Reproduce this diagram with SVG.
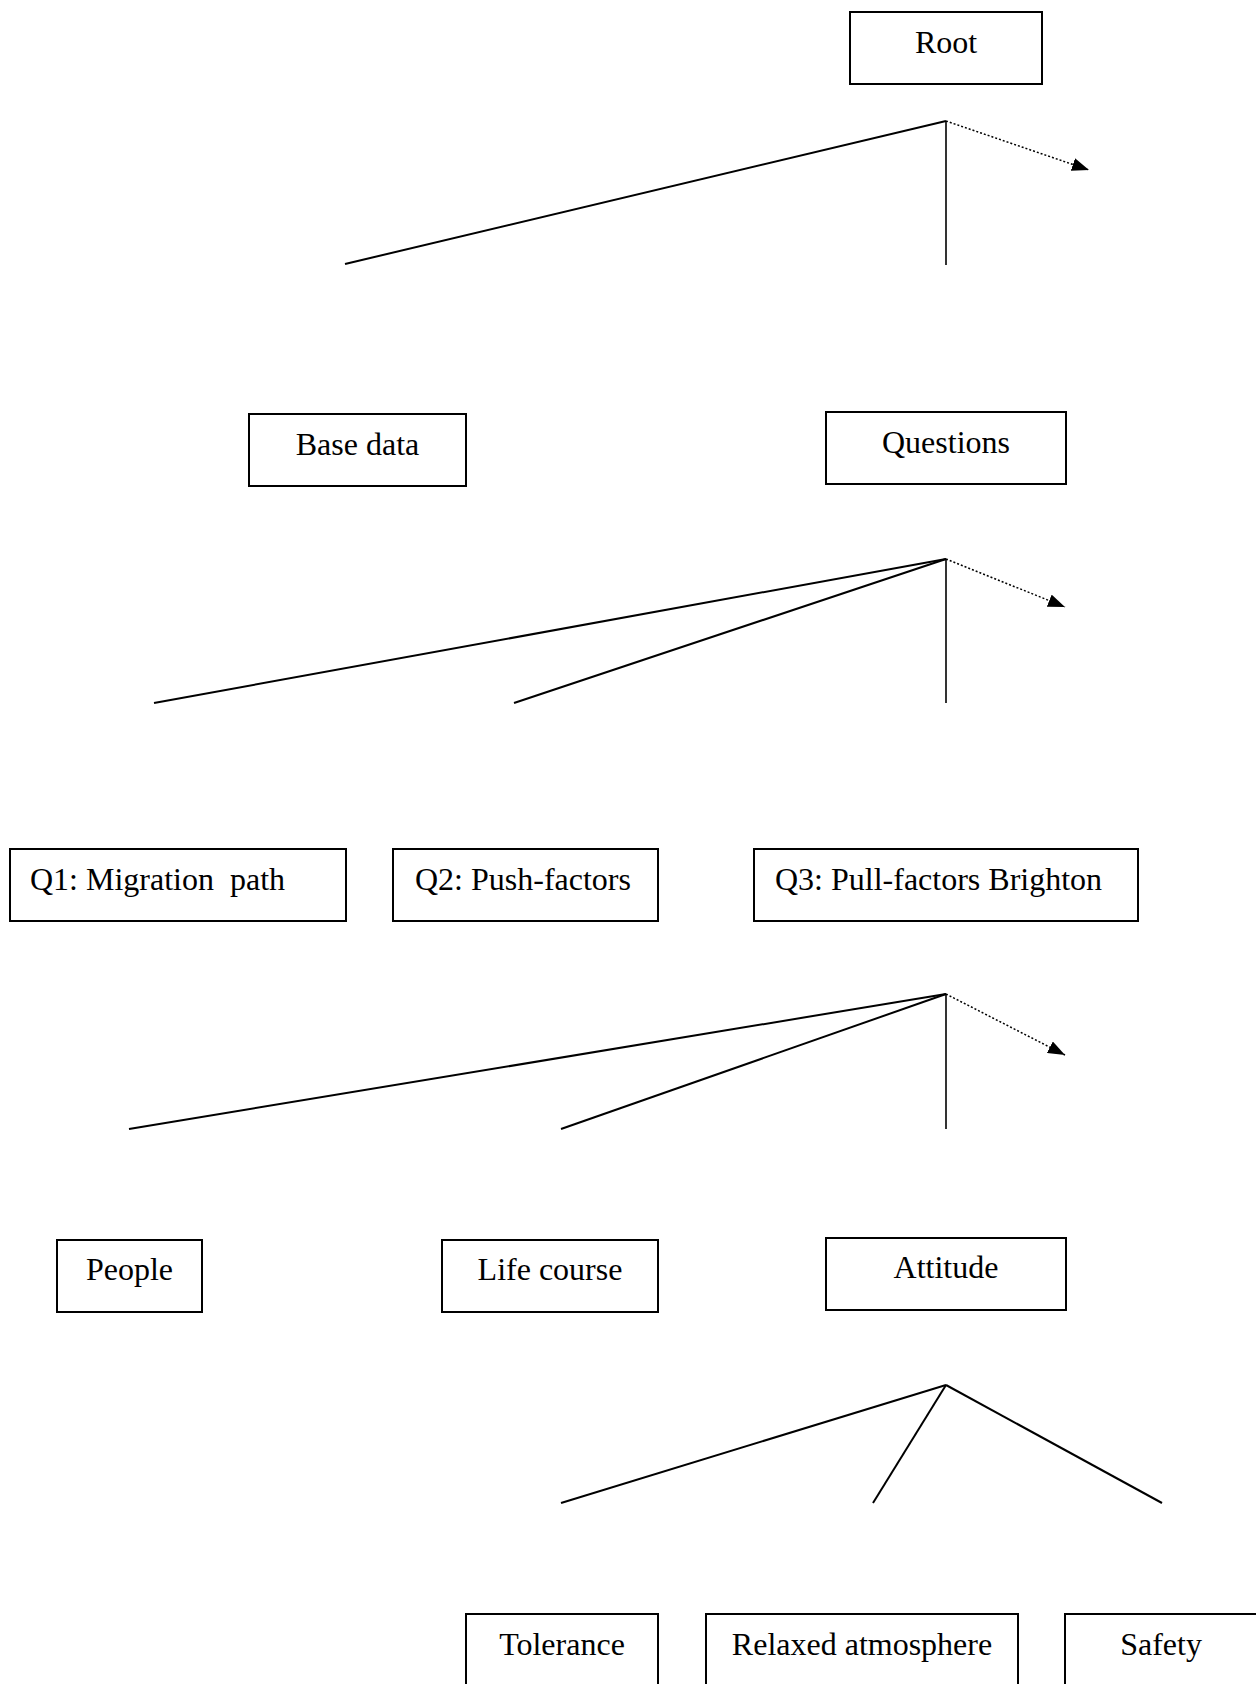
<svg xmlns="http://www.w3.org/2000/svg" width="1256" height="1684" viewBox="0 0 1256 1684">
<style>
.box{fill:#fff;stroke:#000;stroke-width:2}
.t{font-family:"Liberation Serif","Times New Roman",serif;font-size:32px;fill:#000}
.c{text-anchor:middle}
.ln{stroke:#000;stroke-width:2;fill:none}
.v{stroke:#000;stroke-width:1.6;fill:none}
.dot{stroke:#000;stroke-width:1.5;stroke-dasharray:2,2;fill:none}
</style>
<defs>
<marker id="ah" markerUnits="userSpaceOnUse" viewBox="0 0 17 13" refX="17" refY="6.5" markerWidth="17" markerHeight="13" orient="auto">
<path d="M0,0 L17,6.5 L0,13 z" fill="#000"/>
</marker>
</defs>
<rect width="1256" height="1684" fill="#fff"/>
<g id="connectors">
<line class="ln" x1="946" y1="121" x2="345" y2="264"/>
<line class="v" x1="946" y1="121" x2="946" y2="265"/>
<line class="dot" x1="946" y1="121" x2="1089" y2="170" marker-end="url(#ah)"/>
<line class="ln" x1="946" y1="559" x2="154" y2="703"/>
<line class="ln" x1="946" y1="559" x2="514" y2="703"/>
<line class="v" x1="946" y1="559" x2="946" y2="703"/>
<line class="dot" x1="946" y1="559" x2="1065" y2="607" marker-end="url(#ah)"/>
<line class="ln" x1="946" y1="994" x2="129" y2="1129"/>
<line class="ln" x1="946" y1="994" x2="561" y2="1129"/>
<line class="v" x1="946" y1="994" x2="946" y2="1129"/>
<line class="dot" x1="946" y1="994" x2="1065" y2="1055" marker-end="url(#ah)"/>
<line class="ln" x1="946" y1="1385" x2="561" y2="1503"/>
<line class="ln" x1="946" y1="1385" x2="873" y2="1503"/>
<line class="ln" x1="946" y1="1385" x2="1162" y2="1503"/>
</g>
<g id="root"><rect class="box" x="850" y="12" width="192" height="72"/><text class="t c" x="946" y="53">Root</text></g>
<g id="base-data"><rect class="box" x="249" y="414" width="217" height="72"/><text class="t c" x="357.5" y="455">Base data</text></g>
<g id="questions"><rect class="box" x="826" y="412" width="240" height="72"/><text class="t c" x="946" y="453">Questions</text></g>
<g id="q1"><rect class="box" x="10" y="849" width="336" height="72"/><text class="t" x="30" y="890">Q1: Migration&#160; path</text></g>
<g id="q2"><rect class="box" x="393" y="849" width="265" height="72"/><text class="t" x="415" y="890">Q2: Push-factors</text></g>
<g id="q3"><rect class="box" x="754" y="849" width="384" height="72"/><text class="t" x="775" y="890">Q3: Pull-factors Brighton</text></g>
<g id="people"><rect class="box" x="57" y="1240" width="145" height="72"/><text class="t c" x="129.5" y="1280">People</text></g>
<g id="life-course"><rect class="box" x="442" y="1240" width="216" height="72"/><text class="t c" x="550" y="1280">Life course</text></g>
<g id="attitude"><rect class="box" x="826" y="1238" width="240" height="72"/><text class="t c" x="946" y="1278">Attitude</text></g>
<g id="tolerance"><rect class="box" x="466" y="1614" width="192" height="90"/><text class="t c" x="562" y="1655">Tolerance</text></g>
<g id="relaxed-atmosphere"><rect class="box" x="706" y="1614" width="312" height="90"/><text class="t c" x="862" y="1655">Relaxed atmosphere</text></g>
<g id="safety"><rect class="box" x="1065" y="1614" width="210" height="90"/><text class="t c" x="1161" y="1655">Safety</text></g>
</svg>
